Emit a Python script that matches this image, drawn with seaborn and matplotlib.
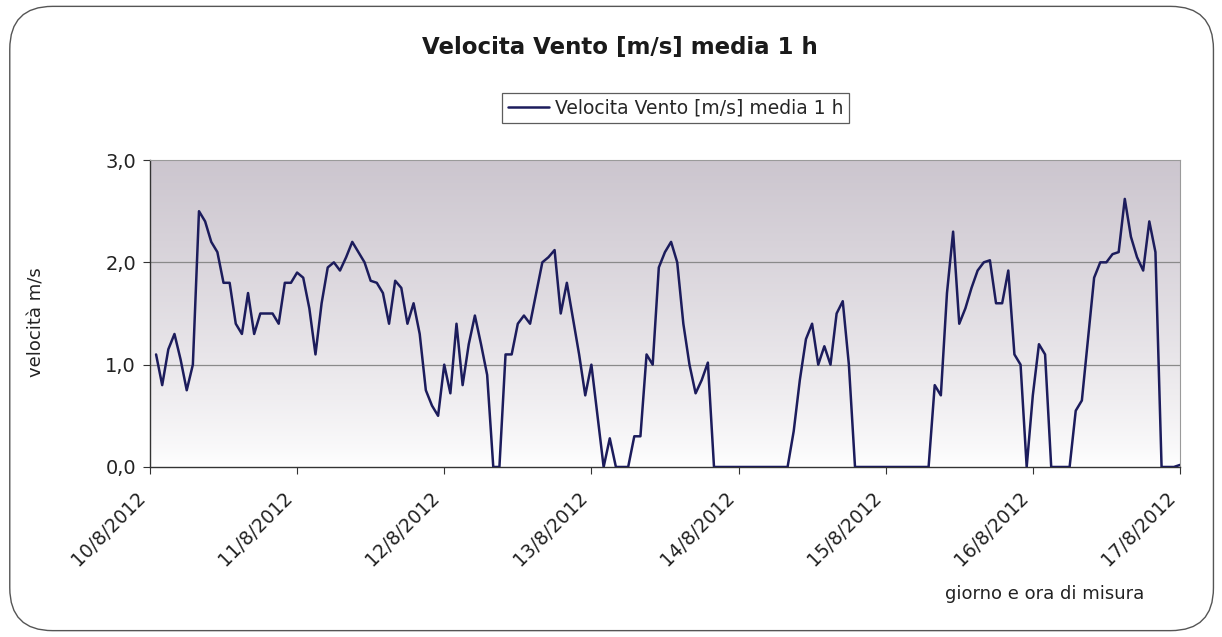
import numpy as np
import pandas as pd
import seaborn as sns
import matplotlib.pyplot as plt
import matplotlib.transforms as mtransforms
from matplotlib.patches import FancyBboxPatch

# velocita vento media oraria, 10/8/2012 01:00 -> 17/8/2012 00:00
velocita = [
    1.10, 0.80, 1.15, 1.30, 1.05, 0.75, 1.00, 2.50, 2.40, 2.20, 2.10, 1.80,
    1.80, 1.40, 1.30, 1.70, 1.30, 1.50, 1.50, 1.50, 1.40, 1.80, 1.80, 1.90,
    1.85, 1.55, 1.10, 1.60, 1.95, 2.00, 1.92, 2.05, 2.20, 2.10, 2.00, 1.82,
    1.80, 1.70, 1.40, 1.82, 1.75, 1.40, 1.60, 1.30, 0.75, 0.60, 0.50, 1.00,
    0.72, 1.40, 0.80, 1.20, 1.48, 1.20, 0.90, 0.00, 0.00, 1.10, 1.10, 1.40,
    1.48, 1.40, 1.70, 2.00, 2.05, 2.12, 1.50, 1.80, 1.45, 1.10, 0.70, 1.00,
    0.50, 0.00, 0.28, 0.00, 0.00, 0.00, 0.30, 0.30, 1.10, 1.00, 1.95, 2.10,
    2.20, 2.00, 1.40, 1.00, 0.72, 0.85, 1.02, 0.00, 0.00, 0.00, 0.00, 0.00,
    0.00, 0.00, 0.00, 0.00, 0.00, 0.00, 0.00, 0.00, 0.35, 0.85, 1.25, 1.40,
    1.00, 1.18, 1.00, 1.50, 1.62, 1.00, 0.00, 0.00, 0.00, 0.00, 0.00, 0.00,
    0.00, 0.00, 0.00, 0.00, 0.00, 0.00, 0.00, 0.80, 0.70, 1.70, 2.30, 1.40,
    1.55, 1.75, 1.92, 2.00, 2.02, 1.60, 1.60, 1.92, 1.10, 1.00, 0.00, 0.70,
    1.20, 1.10, 0.00, 0.00, 0.00, 0.00, 0.55, 0.65, 1.25, 1.85, 2.00, 2.00,
    2.08, 2.10, 2.62, 2.25, 2.05, 1.92, 2.40, 2.10, 0.00, 0.00, 0.00, 0.02,
]
ore = pd.date_range("2012-08-10 01:00", periods=len(velocita), freq="h")
giorni = pd.date_range("2012-08-10", "2012-08-17", freq="D")
etichette_giorni = ["10/8/2012", "11/8/2012", "12/8/2012", "13/8/2012",
                    "14/8/2012", "15/8/2012", "16/8/2012", "17/8/2012"]
y_ticks = [0.0, 1.0, 2.0, 3.0]
y_labels = ["0,0", "1,0", "2,0", "3,0"]

df = pd.DataFrame({"ora": ore, "velocita": velocita})

sns.set_style("white")
plt.rcParams["font.family"] = ["DejaVu Sans"]

fig = plt.figure(figsize=(12.22, 6.37), dpi=100)
ax = fig.add_axes([0.1227, 0.2669, 0.8429, 0.4819])

# sfondo sfumato grigio -> bianco
grad = np.linspace(1, 0, 256).reshape(-1, 1)
top = np.array([0.80, 0.775, 0.81])
img = top * grad[..., None] ** 0.8 + np.ones(3) * (1 - grad[..., None] ** 0.8)
ax.imshow(img, extent=[0, 1, 0, 1], transform=ax.transAxes, aspect="auto", zorder=0)

for v in [1.0, 2.0]:
    ax.axhline(v, color="#8a8a8a", lw=0.9, zorder=1)

sns.lineplot(data=df, x="ora", y="velocita", ax=ax, color="#1c1c5c", lw=1.8,
             label="Velocita Vento [m/s] media 1 h", zorder=3)

ax.set_xlim(giorni[0], giorni[-1])
ax.set_ylim(0, 3.0)
ax.set_xticks(giorni)
ax.set_xticklabels(etichette_giorni, rotation=45, ha="right", rotation_mode="anchor",
                   fontsize=13.5, color="#222222")
ax.set_yticks(y_ticks)
ax.set_yticklabels(y_labels, fontsize=14, color="#222222")
ax.tick_params(axis="both", length=5, width=0.8, color="#333333", direction="out",
               bottom=True, left=True, pad=5)
ax.tick_params(axis="x", pad=10)
# etichette date spostate un po' a sinistra come nell'originale
sposta = mtransforms.ScaledTranslation(-14 / 100, 0, fig.dpi_scale_trans)
for lab in ax.get_xticklabels():
    lab.set_transform(lab.get_transform() + sposta)
for s in ["top", "right"]:
    ax.spines[s].set_color("#9a9a9a")
    ax.spines[s].set_linewidth(0.8)
for s in ["left", "bottom"]:
    ax.spines[s].set_color("#333333")
    ax.spines[s].set_linewidth(1.0)
ax.set_xlabel("")
ax.set_ylabel("")

fig.text(0.030, 0.495, "velocità m/s", rotation=90, ha="center", va="center",
         fontsize=13, color="#222222")
fig.text(0.855, 0.068, "giorno e ora di misura", ha="center", va="center",
         fontsize=13, color="#222222")
fig.text(0.507, 0.926, "Velocita Vento [m/s] media 1 h", ha="center", va="center",
         fontsize=16.5, fontweight="bold", color="#1a1a1a")

leg = ax.legend(loc="center", bbox_to_anchor=(0.553, 0.831), bbox_transform=fig.transFigure,
                frameon=True, fancybox=False, fontsize=13.5, handlelength=2.2,
                handletextpad=0.3, borderpad=0.3)
leg.get_frame().set_edgecolor("#333333")
leg.get_frame().set_linewidth(0.9)

box = FancyBboxPatch((0.008, 0.01), 0.985, 0.98, boxstyle="round,pad=0,rounding_size=0.035",
                     transform=fig.transFigure, fill=False, edgecolor="#555555", lw=1.0,
                     mutation_aspect=1222 / 637)
fig.patches.append(box)

fig.savefig("out.png", dpi=100)
